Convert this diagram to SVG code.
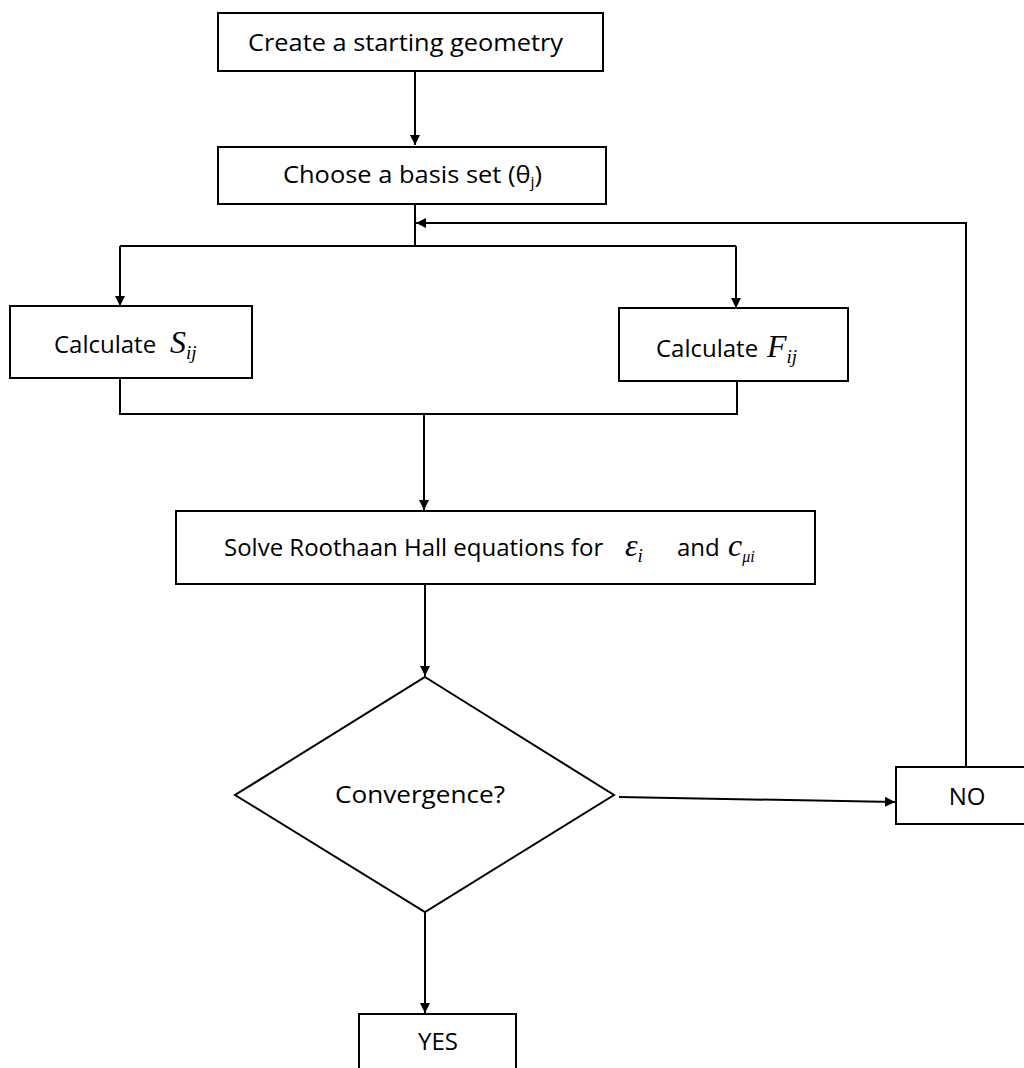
<svg xmlns="http://www.w3.org/2000/svg" width="1024" height="1068" viewBox="0 0 1024 1068">
<style>
.box{fill:#fff;stroke:#000;stroke-width:2}
.ln{fill:none;stroke:#000;stroke-width:2}
.t{font-family:"Open Sans","Liberation Sans",sans-serif;font-size:24px;fill:#000}
.m{font-family:"Liberation Serif",serif;font-style:italic;fill:#000;font-size:32px}
.s{font-size:19px}
</style>
<defs>
<marker id="ah" viewBox="0 0 10 10" refX="10" refY="5" markerWidth="10" markerHeight="10" markerUnits="userSpaceOnUse" orient="auto">
<path d="M0,0 L10,5 L0,10 z" fill="#000"/>
</marker>
</defs>
<rect width="1024" height="1068" fill="#fff"/>
<g id="connectors">
<path class="ln" d="M415,71 V145" marker-end="url(#ah)"/>
<path class="ln" d="M415,204 V246"/>
<path class="ln" d="M120,246 H736"/>
<path class="ln" d="M120,246 V306" marker-end="url(#ah)"/>
<path class="ln" d="M736,246 V308" marker-end="url(#ah)"/>
<path class="ln" d="M966,767 V223 H416" marker-end="url(#ah)"/>
<path class="ln" d="M120,378 V414 H737 V381"/>
<path class="ln" d="M424,414 V510" marker-end="url(#ah)"/>
<path class="ln" d="M425,584 V676" marker-end="url(#ah)"/>
<path class="ln" d="M619,797 L895,802" marker-end="url(#ah)"/>
<path class="ln" d="M425,912 V1013" marker-end="url(#ah)"/>
</g>
<g id="n-create">
<rect class="box" x="218" y="13" width="385" height="58"/>
<text class="t" x="248" y="51" textLength="315" lengthAdjust="spacingAndGlyphs">Create a starting geometry</text>
</g>
<g id="n-basis">
<rect class="box" x="218" y="147" width="388" height="57"/>
<text class="t" x="283" y="183" textLength="259" lengthAdjust="spacingAndGlyphs">Choose a basis set (θ<tspan font-size="15" dy="4">j</tspan><tspan dy="-4">)</tspan></text>
</g>
<g id="n-sij">
<rect class="box" x="10" y="306" width="242" height="72"/>
<text class="t" x="54" y="353">Calculate</text>
<text class="m" x="170" y="353">S<tspan class="s" dy="6">ij</tspan></text>
</g>
<g id="n-fij">
<rect class="box" x="619" y="308" width="229" height="73"/>
<text class="t" x="656" y="357">Calculate</text>
<text class="m" x="767" y="357">F<tspan class="s" dy="6">ij</tspan></text>
</g>
<g id="n-solve">
<rect class="box" x="176" y="511" width="639" height="73"/>
<text class="t" x="224" y="556">Solve Roothaan Hall equations for</text>
<text class="m" x="625" y="556">ε<tspan class="s" dy="6">i</tspan></text>
<text class="t" x="677" y="556">and</text>
<text class="m" x="728" y="556">c<tspan font-size="16" dy="6">μi</tspan></text>
</g>
<g id="n-conv">
<path class="box" d="M425,677 L614,795 L425,912 L235,795 Z"/>
<text class="t" x="335" y="803" textLength="170" lengthAdjust="spacingAndGlyphs">Convergence?</text>
</g>
<g id="n-no">
<rect class="box" x="896" y="767" width="140" height="57"/>
<text class="t" x="967" y="805" text-anchor="middle">NO</text>
</g>
<g id="n-yes">
<rect class="box" x="359" y="1014" width="157" height="70"/>
<text class="t" x="438" y="1050" text-anchor="middle">YES</text>
</g>
</svg>
